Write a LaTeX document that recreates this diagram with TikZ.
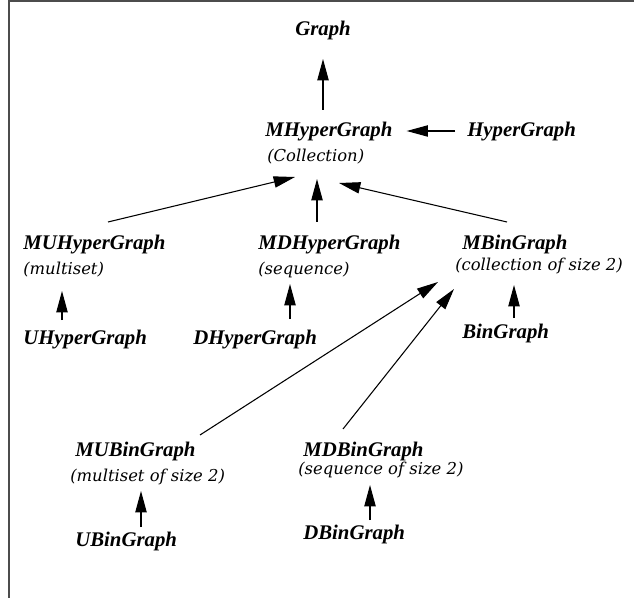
\documentclass[tikz,border=0pt]{standalone}
\usepackage{fontspec}
\usetikzlibrary{arrows.meta,calc}
\newfontfamily\namefamily{Liberation Serif}
\newfontfamily\subfamily{DejaVu Serif}
\begin{document}
\begin{tikzpicture}[x=0.75pt,y=-0.75pt,
  classname/.style={inner sep=0pt,anchor=base west,font=\namefamily\bfseries\itshape\fontsize{15.6}{18}\selectfont},
  subtitle/.style={inner sep=0pt,anchor=base west,font=\subfamily\itshape\fontsize{12.3}{15}\selectfont},
  arr/.style={line width=0.8pt,-{Triangle[length=16pt,width=8.5pt]}},
  framelines/.style={line width=1.2pt,draw=black!70}]
\useasboundingbox (0,0) rectangle (634,598);
\draw[framelines] (9,598) -- (9,1) -- (634,1);
% nodes
\node[classname,anchor=base] (graph) at (323,36) {Graph};
\node[classname] (mhg) at (265,137) {MHyperGraph};
\node[classname] (hg) at (467,137) {HyperGraph};
\node[subtitle] (coll) at (267,162) {(Collection)};
\node[classname] (muhg) at (23,249) {MUHyperGraph};
\node[subtitle] (ms) at (23,274) {(multiset)};
\node[classname] (uhg) at (23,344) {UHyperGraph};
\node[classname] (mdhg) at (258,249) {MDHyperGraph};
\node[subtitle] (seq) at (258,274) {(sequence)};
\node[classname] (dhg) at (193,344) {DHyperGraph};
\node[classname] (mbg) at (462,249) {MBinGraph};
\node[subtitle] (cs2) at (455,271) {(collection of size 2)};
\node[classname] (bg) at (462,338) {BinGraph};
\node[classname] (mubg) at (75,456) {MUBinGraph};
\node[subtitle] (ms2) at (70,481) {(multiset of size 2)};
\node[classname] (ubg) at (75,546) {UBinGraph};
\node[classname] (mdbg) at (303,456) {MDBinGraph};
\node[subtitle] (ss2) at (298,474) {(sequence of size 2)};
\node[classname] (dbg) at (303,539) {DBinGraph};
% connectors
\draw[arr] ($(mhg.base west)+(58,-27)$) -- ($(graph.base)+(0,23)$);
\draw[arr] ($(hg.base west)+(-12,-6)$) -- ($(mhg.base east)+(14,-6)$);
\draw[arr] ($(muhg.base west)+(85,-27)$) -- ($(coll.base west)+(28,15)$);
\draw[arr] ($(mdhg.base west)+(59,-27)$) -- ($(coll.base west)+(50,17)$);
\draw[arr] ($(mbg.base west)+(45,-27)$) -- ($(coll.base west)+(72,21)$);
\draw[arr] ($(uhg.base west)+(39,-24)$) -- ($(ms.base west)+(39,17)$);
\draw[arr] ($(dhg.base west)+(97,-25)$) -- ($(seq.base west)+(32,10)$);
\draw[arr] ($(bg.base west)+(52,-20)$) -- ($(cs2.base west)+(59,14)$);
\draw[arr] ($(mubg.base west)+(125,-21)$) -- ($(cs2.base west)+(-17,11)$);
\draw[arr] ($(mdbg.base west)+(40,-27)$) -- ($(cs2.base west)+(-1,18)$);
\draw[arr] ($(ubg.base west)+(66,-19)$) -- ($(ms2.base west)+(71,10)$);
\draw[arr] ($(dbg.base west)+(67,-19)$) -- ($(ss2.base west)+(72,11)$);
\end{tikzpicture}
\end{document}
